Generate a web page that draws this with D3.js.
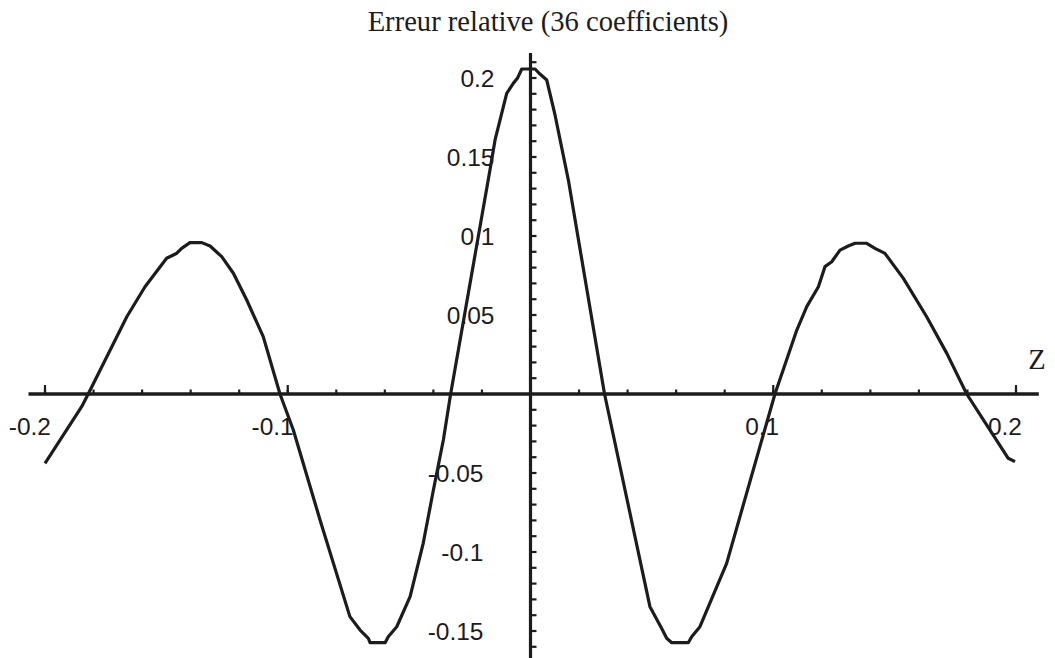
<!DOCTYPE html>
<html>
<head>
<meta charset="utf-8">
<script src="https://cdn.jsdelivr.net/npm/d3@7"></script>
<style>
  html, body { margin: 0; padding: 0; background: #ffffff; }
  svg { display: block; }
</style>
</head>
<body>
<svg id="chart" width="1055" height="658"></svg>
<script>
// Relative error of the 36-coefficient approximation, sampled along Z
const zValues = [
  -0.2000, -0.1849, -0.1822, -0.1663, -0.1588, -0.1499, -0.1457, -0.1437,
  -0.1403, -0.1354, -0.1320, -0.1272, -0.1224, -0.1169, -0.1101, -0.1032,
  -0.0977, -0.0867, -0.0744, -0.0702, -0.0668, -0.0661, -0.0599, -0.0586,
  -0.0551, -0.0496, -0.0442, -0.0400, -0.0359, -0.0329, -0.0167, -0.0146,
  -0.0098, -0.0071, -0.0054, -0.0036, 0.0019, 0.0039, 0.0067, 0.0101,
  0.0156, 0.0305, 0.0492, 0.0540, 0.0561, 0.0582, 0.0650, 0.0664,
  0.0698, 0.0808, 0.0945, 0.1007, 0.1097, 0.1138, 0.1186, 0.1213,
  0.1241, 0.1275, 0.1309, 0.1337, 0.1385, 0.1419, 0.1460, 0.1536,
  0.1632, 0.1715, 0.1797, 0.1893, 0.1968, 0.1996
];
const errorValues = [
  -0.0439, -0.0080, 0.0000, 0.0489, 0.0679, 0.0859, 0.0891, 0.0922,
  0.0958, 0.0958, 0.0937, 0.0869, 0.0764, 0.0595, 0.0363, 0.0000,
  -0.0228, -0.0797, -0.1409, -0.1494, -0.1546, -0.1574, -0.1574, -0.1536,
  -0.1473, -0.1283, -0.0945, -0.0608, -0.0291, 0.0000, 0.1418, 0.1608,
  0.1903, 0.1966, 0.1998, 0.2057, 0.2057, 0.2025, 0.1987, 0.1766,
  0.1354, 0.0000, -0.1346, -0.1483, -0.1546, -0.1574, -0.1574, -0.1536,
  -0.1473, -0.1072, -0.0333, 0.0000, 0.0405, 0.0553, 0.0679, 0.0806,
  0.0837, 0.0911, 0.0937, 0.0954, 0.0954, 0.0922, 0.0890, 0.0732,
  0.0489, 0.0257, 0.0000, -0.0228, -0.0407, -0.0428
];

const xTickValues = [-0.2, -0.1, 0.1, 0.2];
const xTickLabels = ["-0.2", "-0.1", "0.1", "0.2"];
const yTickValues = [-0.15, -0.1, -0.05, 0.05, 0.1, 0.15, 0.2];
const yTickLabels = ["-0.15", "-0.1", "-0.05", "0.05", "0.1", "0.15", "0.2"];

const titleText = "Erreur relative (36 coefficients)";
const xAxisName = "Z";

const ink = "#1c1c1c";
const svg = d3.select("#chart");

const x = d3.scaleLinear().domain([-0.2, 0.2]).range([45, 1016]);
const y = d3.scaleLinear().domain([-0.15, 0.2]).range([631, 78]);

const x0 = x(0), y0 = y(0);

// Horizontal axis
svg.append("line")
  .attr("x1", x(-0.2068)).attr("x2", x(0.2094))
  .attr("y1", y0).attr("y2", y0)
  .attr("stroke", ink).attr("stroke-width", 3.4);

// Minor ticks on Z every 0.02, major ticks on labelled values
const xMinor = d3.range(-10, 11).map(i => i * 0.02).filter(v => Math.abs(v) > 1e-9);
svg.append("g").selectAll("line").data(xMinor).join("line")
  .attr("x1", d => x(d)).attr("x2", d => x(d))
  .attr("y1", y0).attr("y2", y0 - 4.5)
  .attr("stroke", ink).attr("stroke-width", 2.2);
svg.append("g").selectAll("line").data(xTickValues).join("line")
  .attr("x1", d => x(d)).attr("x2", d => x(d))
  .attr("y1", y0).attr("y2", y0 - 9)
  .attr("stroke", ink).attr("stroke-width", 2.2);

// Vertical axis
svg.append("line")
  .attr("x1", x0).attr("x2", x0)
  .attr("y1", 53).attr("y2", 658)
  .attr("stroke", ink).attr("stroke-width", 3.2);

const yMinor = d3.range(-16, 22).map(i => i * 0.01).filter(v => Math.abs(v) > 1e-9);
svg.append("g").selectAll("line").data(yMinor).join("line")
  .attr("x1", x0).attr("x2", x0 + 6)
  .attr("y1", d => y(d)).attr("y2", d => y(d))
  .attr("stroke", ink).attr("stroke-width", 2.2);

// Tick labels
const sans = "'Liberation Sans', Arial, Helvetica, sans-serif";
svg.append("g").selectAll("text").data(xTickValues).join("text")
  .attr("x", d => x(d) + 6)
  .attr("y", y0 + 41)
  .attr("text-anchor", "end")
  .attr("font-family", sans).attr("font-size", 24.5)
  .attr("fill", ink)
  .text((d, i) => xTickLabels[i]);

svg.append("g").selectAll("text").data(yTickValues).join("text")
  .attr("x", d => x0 - (d < 0 ? 47 : 36))
  .attr("y", d => y(d))
  .attr("dy", "0.35em")
  .attr("text-anchor", "end")
  .attr("font-family", sans).attr("font-size", 24.5)
  .attr("fill", ink)
  .text((d, i) => yTickLabels[i]);

// Axis name and title
const serif = "'Liberation Serif', 'Times New Roman', Times, serif";
svg.append("text")
  .attr("x", 1037).attr("y", 369)
  .attr("text-anchor", "middle")
  .attr("font-family", serif).attr("font-size", 28.5)
  .attr("fill", ink)
  .text(xAxisName);

svg.append("text")
  .attr("x", 548).attr("y", 31)
  .attr("text-anchor", "middle")
  .attr("font-family", serif).attr("font-size", 28.6)
  .attr("fill", ink)
  .text(titleText);

// Error curve
const points = zValues.map((z, i) => [z, errorValues[i]]);
const line = d3.line().x(d => x(d[0])).y(d => y(d[1]));
svg.append("path")
  .datum(points)
  .attr("d", line)
  .attr("fill", "none")
  .attr("stroke", ink)
  .attr("stroke-width", 3.2)
  .attr("stroke-linejoin", "round")
  .attr("stroke-linecap", "butt");
</script>
</body>
</html>
